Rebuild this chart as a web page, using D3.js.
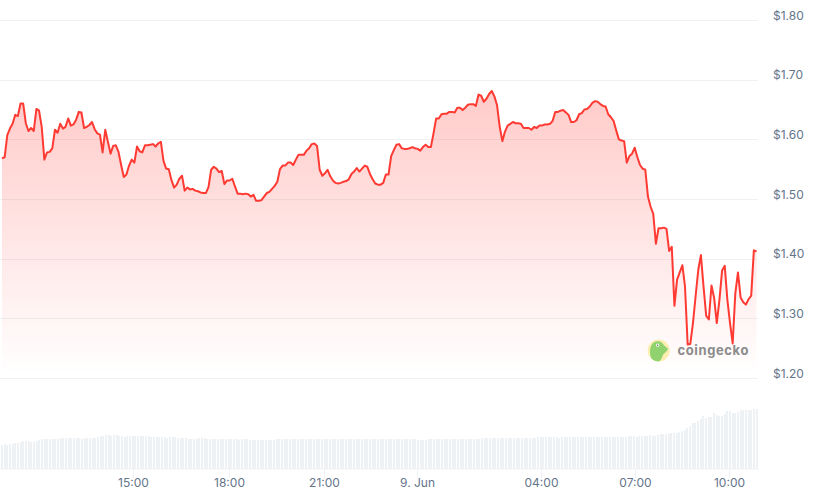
<!DOCTYPE html>
<html>
<head>
<meta charset="utf-8">
<script src="https://cdn.jsdelivr.net/npm/d3@7/dist/d3.min.js"></script>
<style>
html,body{margin:0;padding:0;background:#fff;}
svg{display:block;}
text{font-family:Inter,"Noto Sans",sans-serif;}
</style>
</head>
<body>
<svg id="chart" width="817" height="495"></svg>
<script>
const priceTicks = [1.2, 1.3, 1.4, 1.5, 1.6, 1.7, 1.8];
const priceTickLabels = ["$1.20", "$1.30", "$1.40", "$1.50", "$1.60", "$1.70", "$1.80"];
const timeTicks = ["2023-06-08T15:00", "2023-06-08T18:04", "2023-06-08T21:04", "2023-06-09T00:02", "2023-06-09T04:00", "2023-06-09T07:00", "2023-06-09T10:00"];
const timeTickLabels = ["15:00", "18:00", "21:00", "9. Jun", "04:00", "07:00", "10:00"];
const timeRange = ["2023-06-08T10:49", "2023-06-09T10:53"];
const prices = [
1.568,1.570,1.607,1.618,1.626,1.641,1.639,1.660,1.660,1.627,1.614,1.619,1.614,1.651,1.648,1.621,1.566,1.578,1.579,1.585,
1.616,1.611,1.626,1.618,1.621,1.635,1.623,1.625,1.633,1.646,1.645,1.619,1.621,1.624,1.629,1.617,1.610,1.608,1.578,1.616,
1.596,1.576,1.589,1.590,1.579,1.557,1.537,1.541,1.556,1.566,1.561,1.588,1.580,1.578,1.590,1.590,1.591,1.592,1.588,1.593,
1.596,1.564,1.551,1.550,1.532,1.519,1.524,1.534,1.539,1.514,1.519,1.516,1.517,1.514,1.513,1.511,1.510,1.510,1.520,1.549,
1.554,1.551,1.545,1.547,1.525,1.531,1.531,1.534,1.521,1.509,1.509,1.508,1.509,1.508,1.504,1.507,1.497,1.497,1.498,1.504,
1.510,1.512,
1.517,1.522,1.529,1.550,1.556,1.556,1.561,1.561,1.557,1.566,1.574,1.574,1.574,1.581,1.585,1.592,1.593,1.589,1.549,1.539,
1.543,1.549,1.538,1.531,1.527,1.526,1.527,1.529,1.530,1.533,1.542,1.546,1.552,1.546,1.551,1.556,1.554,1.542,1.533,1.526,
1.524,1.524,1.527,1.541,1.541,1.572,1.582,1.591,1.592,1.585,1.584,1.584,1.585,1.587,1.585,1.584,1.581,1.587,1.591,1.587,
1.587,1.610,1.635,1.635,1.642,1.643,1.643,1.646,1.646,1.645,1.653,1.653,1.649,1.653,1.658,1.659,1.659,1.656,1.675,1.673,
1.663,1.668,1.676,1.681,1.672,1.657,1.621,1.597,1.613,1.623,1.626,1.629,1.627,1.627,1.626,1.619,1.619,1.619,1.616,1.621,
1.619,1.623,
1.623,1.625,1.625,1.626,1.631,1.646,1.646,1.648,1.649,1.645,1.641,1.629,1.629,1.632,1.642,1.644,1.650,1.651,1.655,1.661,
1.664,1.663,1.659,1.656,1.655,1.642,1.637,1.631,1.615,1.600,1.598,1.597,1.561,1.572,1.576,1.586,1.570,1.557,1.551,1.549,
1.504,1.487,1.475,1.425,1.451,1.451,1.452,1.450,1.413,1.420,1.321,1.365,1.377,1.389,1.353,1.256,1.257,1.292,1.337,1.381,
1.406,1.353,1.304,1.298,1.355,1.334,1.292,1.331,1.380,1.388,1.331,1.292,1.258,1.342,1.377,1.335,1.327,1.323,1.332,1.338,
1.414,1.412
];
const volumes = [
23.7,24.3,24,24.3,25,25.7,25.7,26.3,27.3,27.7,27.7,27,26.7,27.3,28.3,29.3,29.3,29.3,29.3,29.3,
30,29.3,30.3,30.7,30.7,30.7,30.7,30.7,30.7,30.7,30,30.7,30.7,30.7,30.7,31,32,32.3,32.7,33.3,
33.3,32.7,33.7,33.7,33,32.7,32,32.3,32.3,32.3,32.3,32.3,32.3,32.3,32.3,32.3,31.7,31.3,31.3,31.3,
31.3,31.3,31,31.3,31.7,31.3,30.7,30.7,30.7,30.7,30,29.3,29.3,29.7,30.3,30.3,30.3,30,29.3,29.3,
29.3,29.3,29.3,29.3,29.3,29.3,29.3,29.3,29.3,29,29.3,29.3,29.3,29,29,29,29,29,29,29,
29,29,29,29.3,29.3,29.3,29.3,29.3,29.3,29.3,29.3,29.3,29.3,29.3,29.3,29.3,29.3,29.3,29.3,29.3,
29.3,29.3,29.3,29.3,29.3,29.3,29.3,29.3,29.3,29.3,29.3,29.3,29.3,29.3,29.3,29.3,29.3,29.3,29.3,29.3,
29.3,29.3,29.3,29.3,29.3,29.3,29.3,29.3,29.3,29.3,29.3,29.3,29.3,29.3,29.3,29.3,29,29,29,29,
29.3,29.3,29.3,29.3,29.3,29.3,29.3,29.3,29.3,29.3,29.3,29.3,29.3,29.3,29.3,29.3,29.3,29.3,29.3,29.3,
30.3,30.3,30.3,30.3,30.3,30.3,30.3,30.3,30.3,30.3,30.3,30.3,30.3,30.3,30.3,30.3,30.3,30.3,30.3,30.3,
30.7,31.3,31.3,31.3,31.3,31.3,31.3,31.3,31.3,30.7,31.3,31.3,31.3,31.3,31.3,31.3,31.7,31.7,31.7,31.7,
31.7,31.7,31.7,31.7,31.7,31.7,
31.7,31.7,31.7,31.7,31.7,31.7,31.7,31.7,31.7,32.3,32.7,32.7,31.7,32.3,32.7,32.7,32.7,33.3,32.7,33,
33.3,34.3,34.3,34.3,34.3,35.3,35.3,35.7,36.3,37.3,38.7,40.3,42.7,45.3,45.3,48,50,52.3,50.7,51.3,
52,55.3,53.7,53,53,55,57.3,57.3,55.3,55.3,56.7,58.3,59,58.7,59,58.7,59.7,59.7
];

const svg = d3.select("#chart");
const defs = svg.append("defs");

const y = d3.scaleLinear().domain([1.2, 1.8]).range([378, 20]);
const xIdx = d3.scaleLinear().domain([0, prices.length - 1]).range([2, 756.5]);
const xVol = d3.scaleLinear().domain([0, volumes.length - 1]).range([2, 756.5]);
const parse = d3.timeParse("%Y-%m-%dT%H:%M");
const xTime = d3.scaleTime().domain(timeRange.map(parse)).range([2, 757]);
const yVol = d3.scaleLinear().domain([0, 60]).range([468.5, 408.5]);

const grad = defs.append("linearGradient").attr("id", "fill").attr("gradientUnits", "userSpaceOnUse")
  .attr("x1", 0).attr("x2", 0).attr("y1", 20).attr("y2", 376);
grad.append("stop").attr("offset", 0).attr("stop-color", "#ff3a33").attr("stop-opacity", 0.33);
grad.append("stop").attr("offset", 1).attr("stop-color", "#ff3a33").attr("stop-opacity", 0);

// grid
svg.append("g").selectAll("line").data(priceTicks).join("line")
  .attr("x1", 0).attr("x2", 758)
  .attr("y1", d => Math.round(y(d)) + 0.5).attr("y2", d => Math.round(y(d)) + 0.5)
  .attr("stroke", "#eff2f5").attr("stroke-width", 1);

// area and line
const area = d3.area().x((d, i) => xIdx(i)).y0(370).y1(d => y(d));
const line = d3.line().x((d, i) => xIdx(i)).y(d => y(d));
svg.append("path").datum(prices).attr("d", area).attr("fill", "url(#fill)");

// logo
const logo = svg.append("g").attr("class", "logo");
logo.append("circle").attr("cx", 658.7).attr("cy", 350.5).attr("r", 11).attr("fill", "#fbeeb0");
logo.append("path")
  .attr("d", "M651,358 C649,351 650,343 656,341.5 C660,340.5 663,343 664,345.5 L668,348.5 C667,352 664,353 663,355 C662,358 661,360 659,361.5 C656,361.5 653,360.5 651,358 Z")
  .attr("fill", "#8fd26e");
logo.append("circle").attr("cx", 657.6).attr("cy", 345.2).attr("r", 1.6).attr("fill", "#fff");
logo.append("circle").attr("cx", 657.6).attr("cy", 345.2).attr("r", 0.8).attr("fill", "#666");
logo.append("text").attr("x", 677.5).attr("y", 355).attr("font-size", 13).attr("font-weight", 700)
  .attr("letter-spacing", 0.6).attr("fill", "#8b8b8b").text("coingecko");

svg.append("path").datum(prices).attr("d", line).attr("fill", "none")
  .attr("stroke", "#ff3a33").attr("stroke-width", 2).attr("stroke-linejoin", "round");

// y labels
svg.append("g").selectAll("text").data(priceTicks).join("text")
  .attr("x", 773).attr("y", d => y(d) - 5)
  .attr("dominant-baseline", "central")
  .attr("font-size", 12).attr("fill", "#64748b")
  .text((d, i) => priceTickLabels[i]);

// volume bars
svg.append("g").selectAll("rect").data(volumes).join("rect")
  .attr("x", (d, i) => Math.round(xVol(i) - 1)).attr("width", 2)
  .attr("y", d => yVol(d)).attr("height", d => yVol(0) - yVol(d))
  .attr("fill", "#eff2f5").attr("shape-rendering", "crispEdges");

// time axis
svg.append("line").attr("x1", 0).attr("x2", 758).attr("y1", 469).attr("y2", 469).attr("stroke", "#eff2f5");
const ax = svg.append("g").selectAll("g").data(timeTicks).join("g")
  .attr("transform", d => `translate(${Math.round(xTime(parse(d))) + 0.5},0)`);
ax.append("line").attr("y1", 469).attr("y2", 478).attr("stroke", "#eff2f5");
ax.append("text").attr("y", 487).attr("text-anchor", "middle").attr("font-size", 12).attr("fill", "#64748b")
  .text((d, i) => timeTickLabels[i]);
</script>
</body>
</html>
